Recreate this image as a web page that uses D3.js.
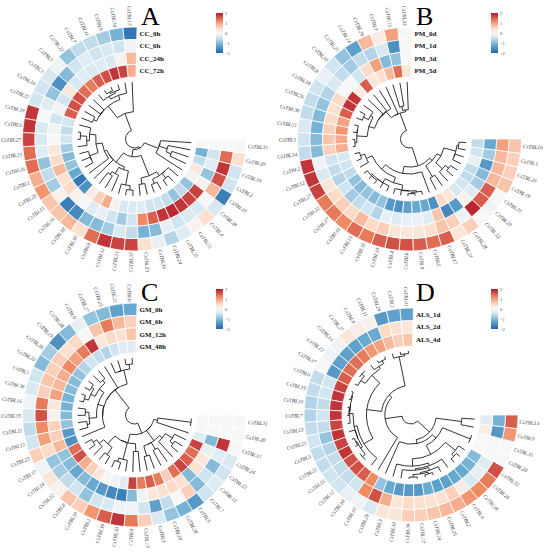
<!DOCTYPE html>
<html>
<head>
<meta charset="utf-8">
<script src="https://cdn.jsdelivr.net/npm/d3@7"></script>
<style>
body { margin: 0; background: #fff; }
#fig { opacity: 0.999; }
</style>
</head>
<body>
<svg id="fig" width="550" height="552"></svg>
<script>
// ---- data ----
var legendTicks = [2, 1, 0, -1, -2];

var tracksA = ["CC_0h", "CC_6h", "CC_24h", "CC_72h"];
var genesA = ["CsTBL17","CsTBL34","CsTBL9","CsTBL11","CsTBL7","CsTBL22","CsTBL5","CsTBL3","CsTBL14","CsTBL32",
  "CsTBL33","CsTBL6","CsTBL27","CsTBL15","CsTBL26","CsTBL1","CsTBL20","CsTBL13","CsTBL16","CsTBL18",
  "CsTBL30","CsTBL8","CsTBL12","CsTBL21","CsTBL37","CsTBL23","CsTBL36","CsTBL24","CsTBL25","CsTBL31",
  "CsTBL4","CsTBL28","CsTBL10","CsTBL2","CsTBL19","CsTBL29","CsTBL35"];
var valuesA = [
  [-1.8,-0.1,0.8,0.9],[-1.1,-0.5,0.1,1.7],[-0.8,-0.4,-0.4,1.8],[-0.6,-0.5,-0.3,1.6],[-0.6,-0.3,-0.4,1.5],
  [-0.9,-0.5,-0.3,1.3],[-0.1,-1.0,-0.4,1.4],[-0.4,-1.5,0.3,1.6],[-0.5,-0.9,-0.5,1.6],[-0.5,-0.3,-0.1,1.5],
  [1.8,0.0,-0.5,-0.5],[1.8,-0.4,-0.1,-0.6],[1.7,-0.4,0.0,-0.5],[1.4,-0.3,0.3,-0.8],[1.4,-0.9,0.5,-1.0],
  [0.9,-0.6,0.8,-0.9],[1.1,-0.8,0.4,-1.2],[0.7,0.1,0.5,-1.8],[0.7,-1.7,0.1,-1.5],[0.8,-1.6,0.0,0.2],
  [0.4,-1.0,-0.3,0.6],[1.4,-1.0,-0.2,0.9],[1.8,-0.8,-0.5,0.1],[1.7,-0.4,-0.8,-0.4],[1.7,-0.6,-0.5,-0.4],
  [0.4,-1.1,1.2,-0.3],[-0.2,-1.0,1.5,-0.5],[-0.7,-0.2,1.8,-0.5],[-0.3,-0.5,1.9,-0.6],[0.1,-0.4,1.8,-0.9],
  [0.4,-0.4,1.7,-0.6],[-0.4,0.0,1.7,-0.9],[-1.7,0.8,0.1,-0.1],[-0.5,1.6,-0.9,0.3],[-0.5,1.8,-0.3,-0.6],
  [0.4,1.4,-0.5,-1.1],[0,0,0,0]];

var tracksB = ["PM_0d", "PM_1d", "PM_3d", "PM_5d"];
var genesB = ["CsTBL33","CsTBL15","CsTBL7","CsTBL29","CsTBL14","CsTBL25","CsTBL30","CsTBL8","CsTBL18","CsTBL26",
  "CsTBL36","CsTBL21","CsTBL3","CsTBL34","CsTBL2","CsTBL12","CsTBL27","CsTBL22","CsTBL37","CsTBL11",
  "CsTBL13","CsTBL35","CsTBL10","CsTBL4","CsTBL6","CsTBL9","CsTBL5","CsTBL17","CsTBL24","CsTBL28",
  "CsTBL32","CsTBL23","CsTBL31","CsTBL19","CsTBL20","CsTBL1","CsTBL16"];
var valuesB = [
  [0,0,0,0.3],[1.0,-1.5,-0.9,1.4],[0.2,-0.4,-1.0,0.8],[0.8,-0.7,1.0,0.4],[-1.3,-0.6,0.5,0.3],
  [-0.9,-0.8,-0.5,1.5],[-0.5,-0.6,0.0,0.2],[-0.2,-0.4,0.0,1.8],[-0.5,-0.7,0.5,1.8],[-0.6,-0.9,0.4,1.5],
  [-0.6,-1.0,0.5,1.0],[-0.4,-1.1,0.6,1.1],[-0.5,-1.0,0.7,0.9],[-0.6,-1.0,0.6,0.9],[1.8,-0.1,-0.5,-0.4],
  [1.8,-0.4,-0.6,-0.5],[1.7,0.3,-0.7,-0.6],[1.3,0.5,-0.5,-0.9],[1.3,0.6,-0.8,-1.0],[1.2,0.5,-0.6,-0.9],
  [1.4,0.8,-0.5,-1.0],[1.3,0.5,-0.7,-0.9],[1.5,0.6,-0.2,-1.4],[1.6,0.3,-0.3,-1.5],[1.6,0.3,-0.2,-1.3],
  [1.5,0.3,-0.2,-1.2],[1.4,0.4,-0.3,-1.2],[1.5,0.7,0.7,-1.5],[0.3,0.6,-1.6,0.5],[0.6,-0.1,-1.4,0.3],
  [0.0,1.9,0.1,-0.4],[-0.1,1.5,-0.3,-0.5],[0.0,1.5,-0.8,-0.6],[0.7,0.8,-1.0,-0.6],[0.6,0.8,-1.4,-0.2],
  [0.6,0.8,-0.8,-0.5],[0.7,1.0,-1.2,-0.6]];

var tracksC = ["GM_0h", "GM_6h", "GM_12h", "GM_48h"];
var genesC = ["CsTBL6","CsTBL21","CsTBL25","CsTBL27","CsTBL9","CsTBL18","CsTBL19","CsTBL26","CsTBL33","CsTBL1",
  "CsTBL36","CsTBL16","CsTBL35","CsTBL11","CsTBL13","CsTBL23","CsTBL37","CsTBL14","CsTBL32","CsTBL8",
  "CsTBL10","CsTBL2","CsTBL34","CsTBL30","CsTBL4","CsTBL17","CsTBL3","CsTBL29","CsTBL28","CsTBL5",
  "CsTBL7","CsTBL12","CsTBL22","CsTBL24","CsTBL15","CsTBL20","CsTBL31"];
var valuesC = [
  [-1.2,0.6,0.7,-0.3],[-1.3,0.8,0.4,-0.3],[-1.0,1.3,0.5,-0.5],[-0.9,0.7,0.3,-0.7],[-0.2,0.0,1.8,-0.6],
  [-1.0,0.5,1.3,-0.5],[-1.5,0.4,1.0,-0.7],[-0.8,0.6,1.2,-0.9],[-1.0,0.6,0.9,-1.0],[-0.5,0.7,0.8,-1.0],
  [-0.4,0.6,1.0,-1.1],[-0.1,1.3,0.3,-1.1],[-0.4,1.6,0.1,-1.0],[-0.6,1.2,0.6,-0.9],[-0.5,1.0,0.6,-1.4],
  [0.6,0.5,0.8,-1.5],[-0.1,-0.9,-0.9,1.4],[0.3,-0.8,-1.0,1.6],[0.1,-0.6,-1.2,0.9],[0.7,-0.5,-1.0,0.6],
  [0.6,-0.9,-1.2,0.3],[1.1,-0.5,-1.4,0.0],[1.5,-0.4,-1.6,-0.1],[1.8,-0.1,-1.7,-0.3],[1.3,-0.1,-1.0,1.7],
  [0.6,-0.5,-0.1,1.3],[-0.4,-1.3,0.3,1.5],[-0.9,-0.6,0.4,1.3],[-1.1,0.0,0.5,0.6],[-1.4,0.6,0.4,1.4],
  [-0.5,-1.0,-1.0,1.7],[-0.3,-0.5,0.4,1.5],[-0.5,-1.0,0.3,1.4],[-0.4,-0.3,-0.2,1.7],[0.0,1.8,-1.0,-0.3],
  [0,0,0,0],[0,0,0,0]];

var tracksD = ["ALS_1d", "ALS_2d", "ALS_4d"];
var genesD = ["CsTBL31","CsTBL1","CsTBL29","CsTBL11","CsTBL8","CsTBL27","CsTBL33","CsTBL22","CsTBL37","CsTBL6",
  "CsTBL19","CsTBL16","CsTBL7","CsTBL13","CsTBL23","CsTBL5","CsTBL21","CsTBL15","CsTBL12","CsTBL18",
  "CsTBL10","CsTBL28","CsTBL3","CsTBL30","CsTBL34","CsTBL17","CsTBL24","CsTBL25","CsTBL2","CsTBL4",
  "CsTBL36","CsTBL26","CsTBL32","CsTBL20","CsTBL35","CsTBL9","CsTBL14"];
var valuesD = [
  [-1.3,0.3,0.7],[-1.3,0.4,0.6],[-1.4,0.5,0.8],[0.1,-1.2,1.0],[0.2,-1.2,1.1],
  [0.3,-1.3,1.3],[-0.1,-1.3,1.4],[-0.1,-1.3,1.4],[0.0,-1.4,1.5],[-0.6,-0.5,1.7],
  [-0.6,-0.5,1.8],[-0.7,-0.6,1.8],[-0.7,-0.5,1.8],[-0.6,-0.6,1.7],[-0.5,-0.9,1.8],
  [-0.6,-0.7,1.7],[-0.6,-0.6,1.8],[-0.5,-0.6,1.6],[-0.5,-0.6,1.6],[-0.2,-0.5,1.5],
  [-0.1,1.2,1.2],[-0.4,1.6,-0.9],[0.3,0.9,-1.2],[0.3,0.3,-1.4],[0.6,0.5,-1.4],
  [0.6,0.4,-1.4],[0.7,0.4,-1.2],[0.8,0.4,-1.3],[0.9,0.6,-1.3],[1.1,0.2,-1.2],
  [1.2,-0.4,-1.2],[1.3,-0.2,-1.1],[1.6,-0.3,-1.0],[0,0,0],[0,0,0],
  [1.1,-1.4,0.2],[1.5,-1.1,-0.3]];

var letters = ["A", "B", "C", "D"];

// ---- drawing ----
var svg = d3.select("#fig");
var serif = "'Liberation Serif', 'Times New Roman', serif";

var rdbu = ["#2166AC", "#67A9CF", "#D1E5F0", "#F7F7F7", "#FDDBC7", "#EF8A62", "#B2182B"];
var color = d3.scaleLinear()
  .domain([-2, -1.2, -0.5, 0, 0.5, 1.2, 2])
  .range(rdbu)
  .clamp(true);

var grad = svg.append("defs").append("linearGradient")
  .attr("id", "legendGrad")
  .attr("x1", 0).attr("y1", 0).attr("x2", 0).attr("y2", 1);
d3.range(0, 1.0001, 0.1).forEach(function(t){
  grad.append("stop")
    .attr("offset", t)
    .attr("stop-color", color(2 - 4 * t));
});

function rad(deg) { return deg * Math.PI / 180; }

//euclidean distance between two rows
function dist(a, b)
{
  var s = 0;
  for(var k = 0; k < a.length; k++) s += (a[k] - b[k]) * (a[k] - b[k]);
  return Math.sqrt(s);
}

//average linkage clustering, merging only neighbouring rows so the drawn order is kept
function buildTree(values)
{
  var nodes = values.map(function(v, i){ return {leaves: [i], h: 0, leaf: i}; });
  while(nodes.length > 1)
  {
    var best = 0, bestD = Infinity;
    for(var i = 0; i < nodes.length - 1; i++)
    {
      var d = 0;
      nodes[i].leaves.forEach(function(a){
        nodes[i + 1].leaves.forEach(function(b){ d += dist(values[a], values[b]); });
      });
      d /= nodes[i].leaves.length * nodes[i + 1].leaves.length;
      if(d < bestD) { bestD = d; best = i; }
    }
    var l = nodes[best], r = nodes[best + 1];
    nodes.splice(best, 2, {leaves: l.leaves.concat(r.leaves), h: Math.max(bestD, l.h, r.h), children: [l, r]});
  }
  return nodes[0];
}

var panels = [
  {x: 0,   y: 0,   cx: 134.5, cy: 139, rIn: 62, rOut: 112, genes: genesA, tracks: tracksA, values: valuesA},
  {x: 275, y: 0,   cx: 134.5, cy: 139, rIn: 62, rOut: 112, genes: genesB, tracks: tracksB, values: valuesB},
  {x: 0,   y: 276, cx: 134.5, cy: 139, rIn: 62, rOut: 112, genes: genesC, tracks: tracksC, values: valuesC},
  {x: 275, y: 276, cx: 136,   cy: 139, rIn: 69, rOut: 107, genes: genesD, tracks: tracksD, values: valuesD}
];

panels.forEach(function(p, pi){
  var base = svg.append("g").attr("transform", "translate(" + p.x + "," + p.y + ")");
  var g = base.append("g").attr("transform", "translate(" + p.cx + "," + p.cy + ")");

  var n = p.genes.length;
  var angle = d3.scaleBand().domain(d3.range(n)).range([rad(1.3), rad(-270)]);
  var ring = d3.scaleBand().domain(p.tracks).range([p.rOut, p.rIn]);
  var arc = d3.arc();

  var cells = [];
  p.values.forEach(function(row, i){
    row.forEach(function(v, k){ cells.push({gene: i, track: p.tracks[k], v: v}); });
  });

  g.selectAll("path.cell")
    .data(cells)
    .enter()
    .append("path")
    .attr("class", "cell")
    .attr("d", function(d){
      return arc({
        innerRadius: ring(d.track),
        outerRadius: ring(d.track) + ring.bandwidth(),
        startAngle: angle(d.gene),
        endAngle: angle(d.gene) + angle.bandwidth()
      });
    })
    .attr("fill", function(d){ return color(d.v); })
    .attr("stroke", "#fff")
    .attr("stroke-width", 0.8);

  //gene labels
  var lr = p.rOut + 1.5;
  g.selectAll("text.gene")
    .data(p.genes)
    .enter()
    .append("text")
    .attr("class", "gene")
    .attr("transform", function(d, i){
      var t = angle(i) + angle.bandwidth() / 2;
      var deg = t * 180 / Math.PI - 90;
      var left = Math.sin(t) < 0;
      return "translate(" + (lr * Math.sin(t)) + "," + (-lr * Math.cos(t)) + ") rotate(" + (left ? deg + 180 : deg) + ")";
    })
    .attr("text-anchor", function(d, i){
      return Math.sin(angle(i) + angle.bandwidth() / 2) < 0 ? "end" : "start";
    })
    .attr("dy", "0.35em")
    .style("font-family", serif)
    .style("font-style", "italic")
    .style("font-size", "5.3px")
    .style("fill", "#444")
    .text(function(d){ return d; });

  //track labels in the gap
  g.selectAll("text.track")
    .data(p.tracks)
    .enter()
    .append("text")
    .attr("class", "track")
    .attr("x", 5)
    .attr("y", function(d){ return -(ring(d) + ring.bandwidth() / 2); })
    .attr("dy", "0.35em")
    .style("font-family", serif)
    .style("font-weight", "bold")
    .style("font-size", "7px")
    .style("fill", "#111")
    .text(function(d){ return d; });

  //dendrogram
  var tree = buildTree(p.values);
  var leafR = p.rIn - 5, rootR = 9;
  var hr = d3.scaleLinear().domain([0, tree.h]).range([leafR, rootR]);
  function place(node)
  {
    if(node.children)
    {
      place(node.children[0]);
      place(node.children[1]);
      node.t = (node.children[0].t + node.children[1].t) / 2;
    }
    else
    {
      node.t = angle(node.leaf) + angle.bandwidth() / 2;
    }
    node.r = hr(node.h);
  }
  place(tree);
  var branches = [];
  (function walk(node){
    if(!node.children) return;
    branches.push(node);
    walk(node.children[0]);
    walk(node.children[1]);
  })(tree);

  g.selectAll("path.branch")
    .data(branches)
    .enter()
    .append("path")
    .attr("class", "branch")
    .attr("d", function(d){
      var a = d.children[0], b = d.children[1];
      var path = d3.path();
      path.moveTo(a.r * Math.sin(a.t), -a.r * Math.cos(a.t));
      path.lineTo(d.r * Math.sin(a.t), -d.r * Math.cos(a.t));
      path.arc(0, 0, d.r, a.t - Math.PI / 2, b.t - Math.PI / 2, true);
      path.lineTo(b.r * Math.sin(b.t), -b.r * Math.cos(b.t));
      return path.toString();
    })
    .attr("fill", "none")
    .attr("stroke", "#111")
    .attr("stroke-width", 0.85);

  //panel letter
  base.append("text")
    .attr("x", 141)
    .attr("y", 24.5)
    .style("font-family", serif)
    .style("font-size", "26px")
    .style("fill", "#000")
    .text(letters[pi]);

  //colour legend
  base.append("rect")
    .attr("x", 216)
    .attr("y", 13)
    .attr("width", 7)
    .attr("height", 40)
    .attr("fill", "url(#legendGrad)");

  var ly = d3.scaleLinear().domain([2, -2]).range([13, 53]);
  var legendAxis = base.append("g")
    .attr("transform", "translate(223,0)")
    .call(d3.axisRight(ly).tickValues(legendTicks).tickFormat(d3.format("d")).tickSize(0).tickPadding(2));
  legendAxis.select(".domain").remove();
  legendAxis.selectAll("text")
    .style("font-family", serif)
    .style("font-size", "4.6px")
    .style("fill", "#555");
});
</script>
</body>
</html>
